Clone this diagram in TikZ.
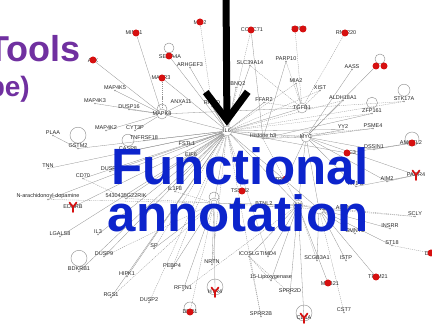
\documentclass[tikz,border=0pt]{standalone}
\usepackage{fontspec}
\setmainfont{Liberation Sans}
\usetikzlibrary{arrows.meta,backgrounds,calc}
\definecolor{netgrey}{RGB}{145,145,145}
\definecolor{hitred}{RGB}{214,16,16}
\definecolor{titleblue}{RGB}{12,36,204}
\definecolor{toolpurple}{RGB}{112,48,160}
\tikzset{
  lbl/.style={font=\fontsize{5.5}{6}\selectfont, text=black!85, inner sep=0pt},
  gene/.style={circle, fill=netgrey, inner sep=0pt, minimum size=1.6pt},
  hit/.style={circle, fill=hitred, inner sep=0pt, minimum size=7pt},
  hub/.style={circle, draw=netgrey, fill=white, inner sep=0pt, minimum size=10pt},
  rel/.style={draw=netgrey, line width=0.3pt},
  indirect/.style={rel, dash pattern=on 1.2pt off 0.9pt},
  selfloop/.style={draw=netgrey, line width=0.45pt},
  receptor/.style={draw=hitred, line width=1.7pt, line cap=round},
  bigarrow/.style={line width=7pt, -{Straight Barb[length=28pt,width=42pt]}},
  headline/.style={font=\bfseries\fontsize{51}{51}\selectfont, text=titleblue, inner sep=0pt, anchor=base},
}
\begin{document}
\begin{tikzpicture}[x=1pt,y=-1pt]
  \useasboundingbox (0,0) rectangle (432,331);
  \clip (0,0) rectangle (432,331);

  \foreach \n/\x/\y/\t in {arhgef3/190/64/ARHGEF3, map4k5/115/87/MAP4K5, map4k3/95/100/MAP4K3,
		dusp16/129/106/DUSP16, anxa11/181/101/ANXA11, rhoq/212/103/RHOQ, map4k2/106/127/MAP4K2,
		cyt3p/135/127/CYT3P, tnfrsf18/144/137/TNFRSF18, plaa/53/132/PLAA, gstm2/78/145/GSTM2,
		casp8/128/148/CASP8, fstl1/187/143/FSTL1, eif6/191/154/EIF6, slc39a14/250/62/SLC39A14,
		parp10/286/58/PARP10, sbnq2/236/84/SBNQ2, mia2/296/80/MIA2, xist/320/87/XIST,
		aass/352/66/AASS, aldh18a1/343/97/ALDH18A1, stk17a/404/98/STK17A, ffar2/264/99/FFAR2,
		zfp161/372/110/ZFP161, yy2/343/126/YY2, psme4/373/125/PSME4, histone/263/135/Histone h3,
		dssin1/374/146/DSSIN1, aim2/387/178/AIM2, rt1b/356/183/RT1-B, scly/415/213/SCLY,
		actn1/345/207/ACTN1, insrr/390/225/INSRR, st18/392/242/ST18, smnt2/355/230/SMNT2,
		istp/346/257/ISTP, cst7/344/309/CST7, scgb3a1/317/257/SCGB3A1, timd4/268/253/TIMD4,
		icoslg/249/253/ICOSLG, lipox/271/277/15-Lipoxygenase, sprr2d/290/290/SPRR2D,
		sprr2b/261/313/SPRR2B, nrtn/212/261/NRTN, rftn1/183/287/RFTN1, pebp4/172/265/PEBP4,
		sp/154/245/SP, dusp2/149/299/DUSP2, hipk1/127/273/HIPK1, rgs1/111/294/RGS1,
		bdkrb1/79/268/BDKRB1, dusp9/104/253/DUSP9, il3/98/231/IL3, lgals8/60/233/LGALS8,
		nada/48/196/N-arachidonoyl-dopamine, g22rik/126/195/5430435G22RIK, cd70/83/175/CD70,
		tnn/48/165/TNN, dusp1/110/168/DUSP1, il1f8/175/188/IL1F8, btnl2/264/203/BTNL2} {
    \node [gene, label={[lbl, name=\n-l]above:\t}] (\n) at (\x,\y+3.5) {};
  }

  \foreach \n/\x/\y/\t in {il6/227/131/IL6, mapk8/162/114/MAPK8, tgfb1/302/108/TGFB1,
		myc/306/137/MYC, akt/298/205/Akt, ifng/319/209/IFNG} {
    \node [hub, label={[lbl]center:\t}] (\n) at (\x,\y) {};
  }
  \node [hub] (hubc) at (214,203) {};
  \node [hub, minimum size=6pt] at (hubc) {};

  \foreach \n/\x/\y/\dx/\dy/\t in {mink1/134/33/136/33/MINK1, mib2/200/23/200/22/MIB2,
		atx/93/61/93/60/ATX, sema4a/170/57/169/56/SEMA4A, mapr3/161/78/162/78/MAPR3,
		ccdc71/252/30/251/30/CCDC71, rnf220/346/33/345/33/RNF220, amotl2/411/143/412/143/AMOTL2,
		lc3/351/153/347/153/LC3, trim4/283/180/286/179/TRIM4, tssm2/240/191/242/191/TSSM2,
		mab21/330/284/328/283/MAB21, trim21/378/277/376/277/TRIM21, ddr1/190/312/190/312/DDR1,
		dyrk/436/254/431/253/DYRK1A} {
    \node [lbl] at (\x,\y) {\t};
    \node [hit] (\n) at (\dx,\dy) {};
  }
  \node [lbl] at (299,29) {SPOP};
  \node [hit] (spop) at (295,29) {};
  \node [hit] (spopb) at (303,29) {};
  \node [hit] (dbl) at (376,66) {};
  \node [hit] (dblb) at (384,66) {};

  \foreach \n/\x/\y/\t in {edrnb/73/207/EDNRB, paqr4/416/175/PAQR4, htr4/215/292/HTR4, cd1a/304/318/CD1A} {
    \node [lbl] at (\x,\y) {\t};
    \coordinate (\n) at (\x,\y);
    \draw [receptor] (\x,\y+5) -- (\x,\y) (\x-3.5,\y-4.5) -- (\x,\y) -- (\x+3.5,\y-4.5);
  }

  \begin{scope}[on background layer]
    \foreach \a/\b in {mink1/mapk8, atx/mapk8, map4k5/mapk8, map4k3/mapk8, dusp16/mapk8,
		map4k2/mapk8, cyt3p/mapk8, anxa11/mapk8, mapk8/il6, mapk8/tgfb1, sema4a/il6,
		arhgef3/il6, rhoq/il6, tnfrsf18/il6, gstm2/il6, plaa/gstm2, fstl1/il6, eif6/il6,
		ccdc71/histone, slc39a14/il6, parp10/histone, mia2/tgfb1, ffar2/il6, histone/il6,
		tgfb1/il6, myc/il6, myc/histone, dbl/myc, yy2/myc, aass/myc, aldh18a1/myc,
		zfp161/histone, psme4/myc, dssin1/myc, lc3/il6, amotl2/lc3, aim2/paqr4, rt1b/myc,
		actn1/ifng, akt/ifng, akt/il6, ifng/il6, ifng/myc, akt/myc, hubc/il6, hubc/akt,
		btnl2/akt, tssm2/il6, trim4/myc, icoslg/akt, timd4/akt, scgb3a1/ifng, sprr2d/akt,
		lipox/akt, cd1a/akt, nrtn/hubc, pebp4/hubc, rftn1/hubc, sp/hubc, htr4/hubc,
		g22rik/il6, il1f8/il6, nada/il6, cd70/il6, tnn/il6, dusp1/il6, edrnb/il6, il3/il6,
		dusp9/il6, lgals8/il6, bdkrb1/il6, hipk1/il6, rgs1/il6, trim21/ifng, mab21/akt,
		istp/ifng, smnt2/ifng, st18/ifng, insrr/ifng, paqr4/myc, aim2/myc, mapr3/il6,
		casp8/il6, sbnq2/il6, dssin1/amotl2, rt1b/paqr4, yy2/il6}
      \draw [rel] (\a) -- (\b);
    \foreach \a/\b in {mib2/rhoq, spop/tgfb1, rnf220/tgfb1, slc39a14/tgfb1, parp10/tgfb1,
		xist/tgfb1, stk17a/tgfb1, stk17a/il6, aldh18a1/il6, ffar2/tgfb1, scly/ifng, cst7/ifng,
		dusp2/il6, sprr2b/il6, sprr2b/icoslg, lipox/icoslg, sprr2d/icoslg, ddr1/hubc, dyrk/st18,
		nrtn/il6, pebp4/il6, sp/il6, rftn1/akt, scgb3a1/akt, timd4/il6, g22rik/hubc, il1f8/hubc,
		histone/akt, hubc/ifng, mia2/il6, xist/il6, mapr3/mapk8, ccdc71/il6, zfp161/il6,
		psme4/histone, scly/akt, rgs1/hubc, dusp9/hubc, nada/hubc, cd70/g22rik}
      \draw [indirect] (\a) -- (\b);
    \draw [selfloop] (sema4a) ++(0,-8) circle (5pt);
    \draw [selfloop] (mapk8) ++(0,-5) circle (5pt);
    \draw [selfloop] (gstm2-l.north) ++(0,-8) circle (8pt);
    \draw [selfloop] (casp8-l.north) ++(0,-6) circle (6pt);
    \draw [selfloop] (stk17a-l.north) ++(0,-6) circle (6pt);
    \draw [selfloop] (zfp161-l.north) ++(0,-5.5) circle (5.5pt);
    \draw [selfloop] ($(dbl)!.5!(dblb)$) ++(0,-7) circle (5pt);
    \draw [selfloop] (amotl2) ++(0,-4) circle (7pt);
    \draw [selfloop] (bdkrb1-l.north) ++(0,-8) circle (8pt);
    \draw [selfloop] (htr4) ++(0,-5) circle (8pt);
    \draw [selfloop] (ddr1) ++(0,-4) circle (6pt);
    \draw [selfloop] (cd1a) ++(0,-5) circle (8pt);
    \draw [selfloop] (hubc) ++(0,-6) circle (5pt);
  \end{scope}

  \coordinate (arrowtop) at (226,-8);
  \draw [bigarrow] (arrowtop) -- (il6);

  \node [anchor=base east, inner sep=0pt, text=toolpurple, font=\bfseries\fontsize{36}{36}\selectfont] (tools) at (81,62) {Tools};
  \node [anchor=base east, inner sep=0pt, text=toolpurple, font=\bfseries\fontsize{28}{28}\selectfont] (kind) at (30,97) {be)};
  \node [headline] (func) at (240,185) {Functional};
  \node [headline] (annot) at (238,232) {annotation};
\end{tikzpicture}
\end{document}
